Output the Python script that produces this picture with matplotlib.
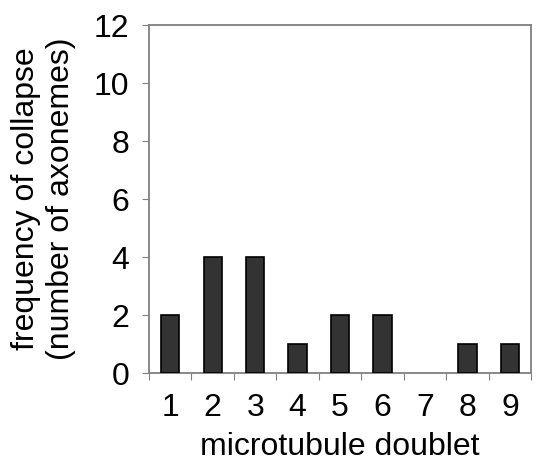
import numpy as np
import matplotlib.pyplot as plt

plt.rcParams['font.family'] = ['Liberation Sans', 'DejaVu Sans']

doublets = ["1", "2", "3", "4", "5", "6", "7", "8", "9"]
counts = [2, 4, 4, 1, 2, 2, 0, 1, 1]
y_ticks = [0, 2, 4, 6, 8, 10, 12]

fig = plt.figure(figsize=(5.36, 4.63), dpi=100)
ax = fig.add_axes([0.278, 0.194, 0.713, 0.752])

x = np.arange(len(doublets))
edges = ['black' if c > 0 else 'none' for c in counts]
ax.bar(x, counts, width=0.43, color='#333333', edgecolor=edges, linewidth=1.2, zorder=3)

ax.set_xlim(-0.5, len(doublets) - 0.5)
ax.set_ylim(0, 12)

for s in ax.spines.values():
    s.set_color('#808080')
    s.set_linewidth(1.3)

# category boundaries get tick marks, centers get labels
ax.set_xticks(np.arange(len(doublets) + 1) - 0.5)
ax.set_xticklabels([])
ax.tick_params(axis='x', which='major', direction='out', length=5, color='#808080')
ax.set_xticks(x, minor=True)
ax.set_xticklabels(doublets, minor=True, fontsize=23)
ax.tick_params(axis='x', which='minor', length=0, pad=14)

ax.set_yticks(y_ticks)
ax.tick_params(axis='y', direction='out', length=5, color='#808080', labelsize=23, pad=9)

ax.set_xlabel('microtubule doublet', fontsize=23, labelpad=7)
ax.set_ylabel('frequency of collapse\n(number of axonemes)', fontsize=23, labelpad=13,
              linespacing=1.2)

fig.savefig('out.png', dpi=100)
